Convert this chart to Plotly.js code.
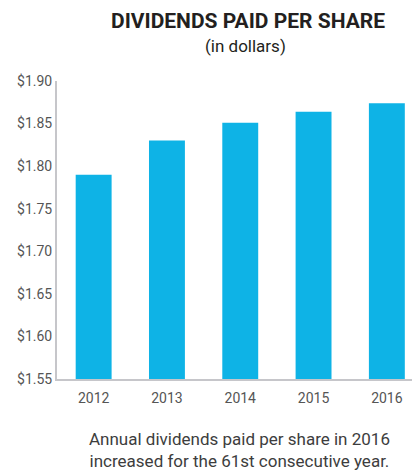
<!DOCTYPE html>
<html>
<head>
<meta charset="utf-8">
<script src="https://cdn.plot.ly/plotly-3.0.1.min.js"></script>
<style>html,body{margin:0;padding:0;background:#fff;}#chart{width:412px;height:470px;}</style>
</head>
<body>
<div id="chart"></div>
<script>
const years = ['2012', '2013', '2014', '2015', '2016'];
const dividends = [1.79, 1.83, 1.851, 1.864, 1.874];
const tickValues = [1.55, 1.60, 1.65, 1.70, 1.75, 1.80, 1.85, 1.90];
const tickLabels = ['$1.55', '$1.60', '$1.65', '$1.70', '$1.75', '$1.80', '$1.85', '$1.90'];

const font = 'Roboto, "Open Sans", sans-serif';
const yBase = 1.55;
const data = [{
  type: 'bar',
  x: years.map((_, i) => i),
  y: dividends.map(v => v - yBase),
  base: yBase,
  marker: {color: '#0eb3e6'},
  width: 0.49,
  hoverinfo: 'x+y'
}];

const layout = {
  width: 412, height: 470,
  margin: {l: 57, r: 0, t: 81, b: 91},
  paper_bgcolor: '#fff', plot_bgcolor: '#fff',
  showlegend: false,
  xaxis: {
    range: [-0.5, 4.343],
    tickvals: [0, 1, 2, 3, 4],
    ticktext: years,
    showgrid: false, zeroline: false,
    showline: true, linecolor: '#c6c6ca', linewidth: 2,
    ticks: '', ticklen: 0,
    ticklabelstandoff: 5,
    tickfont: {family: font, size: 14, color: '#555'},
    fixedrange: true
  },
  yaxis: {
    range: [1.55, 1.90],
    tickvals: tickValues,
    ticktext: tickLabels,
    showgrid: false, zeroline: false,
    showline: true, linecolor: '#c6c6ca', linewidth: 2,
    ticks: '', ticklen: 0,
    tickfont: {family: font, size: 14, color: '#555'},
    fixedrange: true
  },
  annotations: [
    {text: '<b>DIVIDENDS PAID PER SHARE</b>', xref: 'paper', yref: 'paper', x: 0.538, y: 1.201,
     xanchor: 'center', yanchor: 'middle', showarrow: false,
     font: {family: font, size: 21, color: '#231f20'}},
    {text: '(in dollars)', xref: 'paper', yref: 'paper', x: 0.53, y: 1.117,
     xanchor: 'center', yanchor: 'middle', showarrow: false,
     font: {family: font, size: 17, color: '#231f20'}},
    {text: 'Annual dividends paid per share in 2016<br>increased for the 61st consecutive year.',
     xref: 'paper', yref: 'paper', x: 0.513, y: -0.238,
     xanchor: 'center', yanchor: 'middle', showarrow: false, align: 'center',
     font: {family: font, size: 17, color: '#3d3d3d'}}
  ]
};
Plotly.newPlot('chart', data, layout, {displayModeBar: false, staticPlot: true});
</script>
</body>
</html>
